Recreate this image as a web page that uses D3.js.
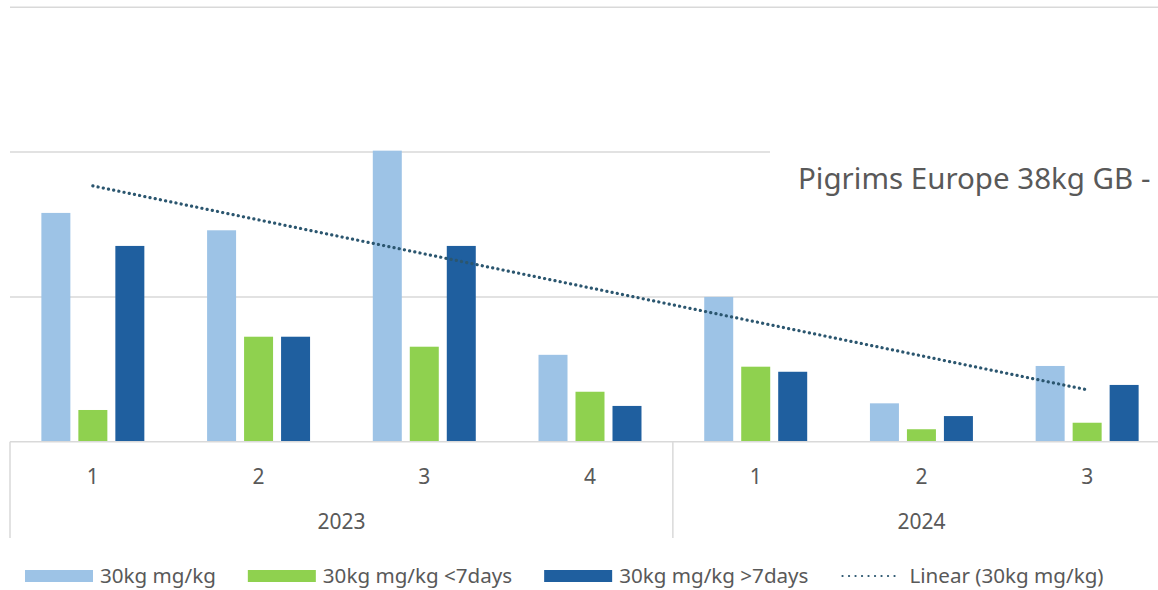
<!DOCTYPE html>
<html>
<head>
<meta charset="utf-8">
<script src="https://cdn.jsdelivr.net/npm/d3@7"></script>
<style>
  html, body { margin: 0; padding: 0; background: #fff; overflow: hidden; }
  svg { display: block; }
  text { font-family: "Noto Sans", sans-serif; fill: #595959; }
</style>
</head>
<body>
<svg id="chart" width="1158" height="590"></svg>
<script>
// ---- data ----
const quarters = ["1", "2", "3", "4", "1", "2", "3"];
const years = ["2023", "2024"];
const yearSpans = [4, 3];
const seriesNames = ["30kg mg/kg", "30kg mg/kg <7days", "30kg mg/kg >7days"];
const s30 = [1.58, 1.46, 2.01, 0.60, 1.00, 0.265, 0.523];
const s30lt7 = [0.219, 0.725, 0.656, 0.345, 0.518, 0.086, 0.131];
const s30gt7 = [1.352, 0.725, 1.352, 0.247, 0.483, 0.177, 0.392];
const gridValues = [0, 1, 2, 3];
const title = "Pigrims Europe 38kg GB -";
const trendLabel = "Linear (30kg mg/kg)";
const colors = ["#9dc3e6", "#8fd14f", "#1f5f9f"];

const series = [s30, s30lt7, s30gt7];
const svg = d3.select("#chart");

const plotLeft = 10, plotRight = 1170, plotTop = 7.3, plotBase = 441.7;
const idx = d3.range(quarters.length);

const x0 = d3.scaleBand().domain(idx).range([plotLeft, plotRight])
  .paddingInner(0.3786).paddingOuter(0.3786 / 2);
const x1 = d3.scaleBand().domain(d3.range(series.length)).range([0, x0.bandwidth()])
  .paddingInner(8 / 37).paddingOuter(0);
const y = d3.scaleLinear().domain([0, 3]).range([plotBase, plotTop]);

// gridlines
svg.append("g").selectAll("line").data(gridValues.filter(v => v > 0)).join("line")
  .attr("x1", plotLeft).attr("x2", 1158)
  .attr("y1", d => y(d)).attr("y2", d => y(d))
  .attr("stroke", "#d9d9d9").attr("stroke-width", 1.5);

// bars
const groups = svg.append("g").selectAll("g").data(idx).join("g")
  .attr("transform", i => `translate(${x0(i)},0)`);
groups.selectAll("rect").data(i => series.map((s, k) => ({ k, v: s[i] }))).join("rect")
  .attr("x", d => x1(d.k)).attr("width", x1.bandwidth())
  .attr("y", d => y(d.v)).attr("height", d => plotBase - y(d.v))
  .attr("fill", d => colors[d.k]);

// baseline axis
svg.append("line").attr("x1", plotLeft).attr("x2", 1158).attr("y1", plotBase).attr("y2", plotBase)
  .attr("stroke", "#d9d9d9").attr("stroke-width", 1.5);

// category ticks (quarters)
const step = x0.step();
const catStart = i => plotLeft + i * step;
svg.append("g").selectAll("text").data(idx).join("text")
  .attr("x", i => x0(i) + x0.bandwidth() / 2).attr("y", 484)
  .attr("text-anchor", "middle").attr("font-size", 21)
  .text(i => quarters[i]);

// year level
let acc = 0;
const yearInfo = years.map((yr, j) => { const s = acc; acc += yearSpans[j]; return { yr, s, e: acc }; });
svg.append("g").selectAll("line").data([0, ...yearInfo.map(d => d.e)]).join("line")
  .attr("x1", d => catStart(d)).attr("x2", d => catStart(d))
  .attr("y1", plotBase).attr("y2", 538)
  .attr("stroke", "#d9d9d9").attr("stroke-width", 1.5);
svg.append("g").selectAll("text").data(yearInfo).join("text")
  .attr("x", d => (catStart(d.s) + catStart(d.e)) / 2).attr("y", 529)
  .attr("text-anchor", "middle").attr("font-size", 21)
  .text(d => d.yr);

// linear trendline (least squares on first series)
const xs = idx.map(i => i + 1);
const mx = d3.mean(xs), my = d3.mean(s30);
const slope = d3.sum(xs, (xv, i) => (xv - mx) * (s30[i] - my)) / d3.sum(xs, xv => (xv - mx) ** 2);
const icpt = my - slope * mx;
const trend = [0, idx.length - 1].map(i => ({ x: x0(i) + x0.bandwidth() / 2, y: y(icpt + slope * (i + 1)) }));
svg.append("path")
  .attr("d", d3.line().x(d => d.x).y(d => d.y)(trend))
  .attr("fill", "none").attr("stroke", "#2b566f").attr("stroke-width", 3.2)
  .attr("stroke-linecap", "round").attr("stroke-dasharray", "0.1,5.2");

// title with white background
svg.append("rect").attr("x", 770).attr("y", 120).attr("width", 400).attr("height", 100).attr("fill", "#fff");
svg.append("text").attr("x", 798).attr("y", 189).attr("font-size", 29.5).text(title);

// legend
const legend = svg.append("g");
let lx = 25;
const ly = 576;
series.forEach((s, k) => {
  legend.append("rect").attr("x", lx).attr("y", ly - 6).attr("width", 68).attr("height", 12).attr("fill", colors[k]);
  const t = legend.append("text").attr("x", lx + 75).attr("y", ly + 7).attr("font-size", 20.6).text(seriesNames[k]);
  lx += 75 + t.node().getComputedTextLength() + 32;
});
legend.append("line").attr("x1", lx + 2).attr("x2", lx + 60).attr("y1", ly).attr("y2", ly)
  .attr("stroke", "#2b566f").attr("stroke-width", 2.2).attr("stroke-linecap", "round").attr("stroke-dasharray", "0.1,6.4");
legend.append("text").attr("x", lx + 69).attr("y", ly + 7).attr("font-size", 20.6).text(trendLabel);
</script>
</body>
</html>
